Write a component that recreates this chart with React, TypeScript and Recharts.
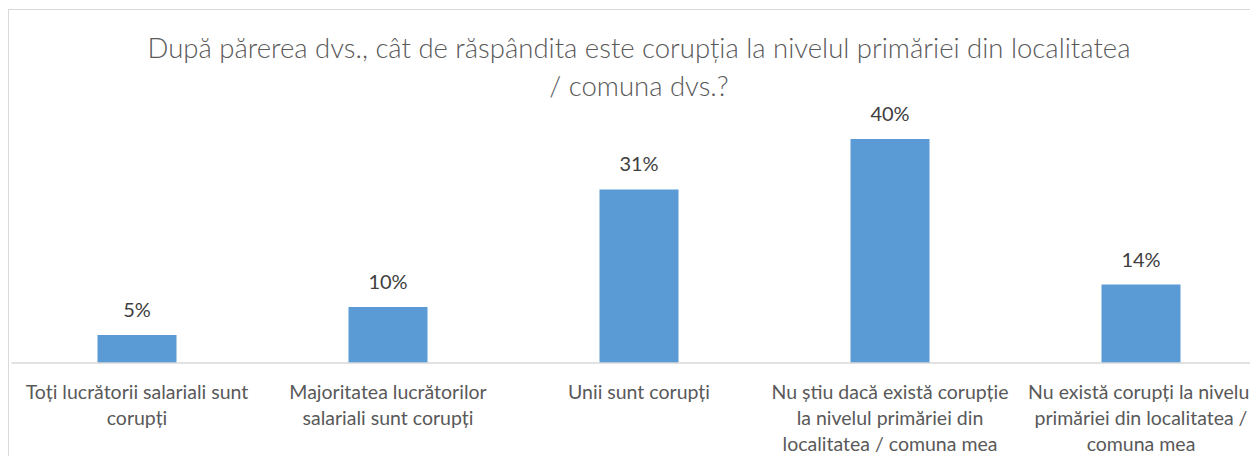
import { BarChart, Bar, XAxis, YAxis, LabelList } from 'recharts'

const title = 'După părerea dvs., cât de răspândita este corupția la nivelul primăriei din localitatea\n/ comuna dvs.?'

const categories = [
  'Toți lucrătorii salariali sunt\ncorupți',
  'Majoritatea lucrătorilor\nsalariali sunt corupți',
  'Unii sunt corupți',
  'Nu știu dacă există corupție\nla nivelul primăriei din\nlocalitatea / comuna mea',
  'Nu există corupți la nivelul\nprimăriei din localitatea /\ncomuna mea',
]

const shares = [5, 10, 31, 40, 14]

const data = categories.map((name, i) => ({ name, value: shares[i] }))

const FONT = 'Lato, "Open Sans", sans-serif'

function WrappedTick({ x, y, payload }: any) {
  const lines = String(payload.value).split('\n')
  return (
    <text x={x} y={y} textAnchor="middle" fill="#595959" fontSize={19.5} fontFamily={FONT}>
      {lines.map((line, i) => (
        <tspan key={i} x={x} dy={i === 0 ? 36 : 26}>
          {line}
        </tspan>
      ))}
    </text>
  )
}

export default function App() {
  return (
    <div style={{ width: 1250, height: 448, overflow: 'hidden', marginTop: 1 }}>
      <div
        style={{
          position: 'relative',
          width: 1272,
          height: 470,
          border: '1px solid #d9d9d9',
          background: '#fff',
        }}
      >
        <div
          style={{
            position: 'absolute',
            top: 19,
            left: 0,
            width: 1260,
            textAlign: 'center',
            whiteSpace: 'pre-line',
            lineHeight: '38px',
            fontSize: 27.5,
            fontWeight: 300,
            color: '#595959',
            fontFamily: FONT,
          }}
        >
          {title}
        </div>
        <BarChart
          width={1270}
          height={453}
          data={data}
          margin={{ top: 101, right: 12.5, left: 2.5, bottom: 0 }}
        >
          <XAxis
            dataKey="name"
            interval={0}
            height={100}
            tickLine={false}
            tickSize={0}
            tickMargin={0}
            axisLine={{ stroke: '#d9d9d9', strokeWidth: 1.3 }}
            tick={<WrappedTick />}
          />
          <YAxis hide domain={[0, 45]} />
          <Bar dataKey="value" fill="#5b9bd5" barSize={79} isAnimationActive={false}>
            <LabelList
              dataKey="value"
              position="top"
              offset={18}
              formatter={(v: any) => `${v}%`}
              fill="#404040"
              fontSize={20}
              fontFamily={FONT}
            />
          </Bar>
        </BarChart>
      </div>
    </div>
  )
}
